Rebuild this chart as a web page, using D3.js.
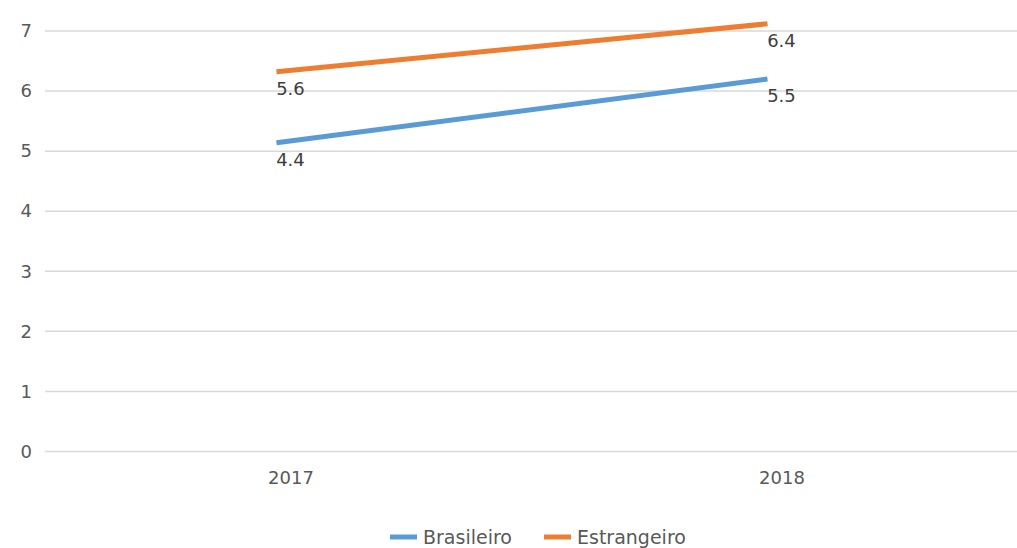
<!DOCTYPE html>
<html>
<head>
<meta charset="utf-8">
<script src="https://cdn.jsdelivr.net/npm/d3@7"></script>
<style>
  body { margin: 0; background: #fff; }
  svg { display: block; font-family: "DejaVu Sans", sans-serif; }
</style>
</head>
<body>
<div id="chart"></div>
<script>
const years = ['2017', '2018'];
const seriesNames = ['Brasileiro', 'Estrangeiro'];
// where the lines sit in the picture
const brasileiro = [5.14, 6.20];
const estrangeiro = [6.32, 7.12];
// the data labels as printed
const brasileiroLabels = ['4.4', '5.5'];
const estrangeiroLabels = ['5.6', '6.4'];
const yTicks = [0, 1, 2, 3, 4, 5, 6, 7];
const colors = ['#5b9bd5', '#ed7d31'];

const width = 1017, height = 548;
const plot = { left: 45, right: 1027, top: 31, bottom: 451.5 };
const font = '"DejaVu Sans", sans-serif';

const svg = d3.select('#chart').append('svg')
  .attr('width', width)
  .attr('height', height);

const x = d3.scalePoint()
  .domain(years)
  .range([plot.left, plot.right])
  .padding(0.5);

const y = d3.scaleLinear()
  .domain([0, 7])
  .range([plot.bottom, plot.top]);

// gridlines
svg.append('g')
  .selectAll('line')
  .data(yTicks)
  .join('line')
  .attr('x1', plot.left)
  .attr('x2', width)
  .attr('y1', d => y(d))
  .attr('y2', d => y(d))
  .attr('stroke', '#d9d9d9')
  .attr('stroke-width', 1.5);

// y axis labels
const yAxis = svg.append('g')
  .attr('transform', `translate(${plot.left - 13},0)`)
  .call(d3.axisLeft(y).tickValues(yTicks).tickFormat(d3.format('d')).tickSize(0).tickPadding(0));
yAxis.select('.domain').remove();
yAxis.selectAll('text')
  .attr('fill', '#595959')
  .attr('font-size', 18)
  .attr('font-family', font);

// x axis labels
const xAxis = svg.append('g')
  .attr('transform', `translate(0,${plot.bottom + 20})`)
  .call(d3.axisBottom(x).tickSize(0).tickPadding(0));
xAxis.select('.domain').remove();
xAxis.selectAll('text')
  .attr('fill', '#595959')
  .attr('font-size', 18)
  .attr('font-family', font);

const series = [
  { name: seriesNames[0], values: brasileiro, labels: brasileiroLabels, color: colors[0] },
  { name: seriesNames[1], values: estrangeiro, labels: estrangeiroLabels, color: colors[1] }
];

const lineShift = -14; // lines drawn slightly left of the category centre

const line = d3.line()
  .x((d, i) => x(years[i]) + lineShift)
  .y(d => y(d));

svg.append('g')
  .selectAll('path')
  .data(series)
  .join('path')
  .attr('d', d => line(d.values))
  .attr('fill', 'none')
  .attr('stroke', d => d.color)
  .attr('stroke-width', 5);

// data labels
series.forEach(s => {
  svg.append('g')
    .selectAll('text')
    .data(s.labels)
    .join('text')
    .attr('x', (d, i) => x(years[i]))
    .attr('y', (d, i) => y(s.values[i]) + 23)
    .attr('text-anchor', 'middle')
    .attr('fill', '#404040')
    .attr('font-size', 18)
    .text(d => d);
});

// legend
const legend = svg.append('g')
  .attr('transform', 'translate(390,537)');

const items = legend.selectAll('g')
  .data(series)
  .join('g')
  .attr('transform', (d, i) => `translate(${i * 154},0)`);

items.append('line')
  .attr('x1', 0)
  .attr('x2', 27)
  .attr('stroke', d => d.color)
  .attr('stroke-width', 5);

items.append('text')
  .attr('x', 33)
  .attr('dy', '0.35em')
  .attr('fill', '#595959')
  .attr('font-size', 19)
  .text(d => d.name);
</script>
</body>
</html>
